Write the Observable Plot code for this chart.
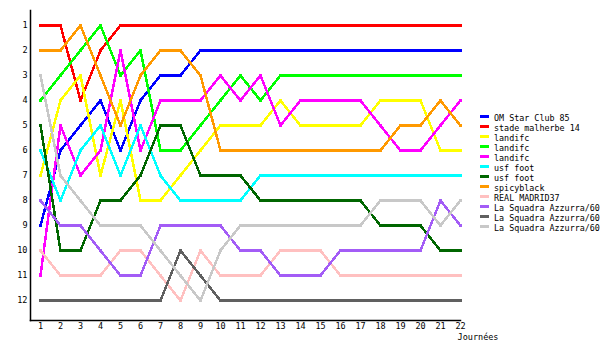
<!DOCTYPE html>
<html>
<head>
<meta charset="utf-8">
<script src="https://cdn.jsdelivr.net/npm/d3@7"></script>
<script src="https://cdn.jsdelivr.net/npm/@observablehq/plot@0.6"></script>
<style>
  html, body { margin: 0; padding: 0; background: #fff; }
  #wrap { position: relative; width: 600px; height: 350px; overflow: hidden; }
  #legend { position: absolute; left: 480px; top: 113px; font-family: "DejaVu Sans Mono", monospace; font-size: 8.4px; line-height: 10px; white-space: nowrap; }
  #legend .row { height: 10px; display: flex; align-items: center; }
  #legend .sw { width: 9px; height: 3px; margin-right: 5px; margin-top: -3px; }
</style>
</head>
<body>
<div id="wrap"><div id="chart"></div><div id="legend"></div></div>
<script>
const journees = d3.range(1, 23);
const teams = ["OM Star Club 85", "stade malherbe 14", "landifc", "landifc", "landifc", "usf foot", "usf foot", "spicyblack", "REAL MADRID37", "La Squadra Azzurra/60", "La Squadra Azzurra/60", "La Squadra Azzurra/60"];
const colors = ["#0000ff", "#ff0000", "#ffff00", "#00ff00", "#ff00ff", "#00ffff", "#006600", "#ff9900", "#ffc0c0", "#a35cf6", "#606060", "#c8c8c8"];
const omStar     = [9,6,5,4,6,4,3,3,2,2,2,2,2,2,2,2,2,2,2,2,2,2];
const stadeMal   = [1,1,4,2,1,1,1,1,1,1,1,1,1,1,1,1,1,1,1,1,1,1];
const landifcY   = [7,4,3,7,4,8,8,7,6,5,5,5,4,5,5,5,5,4,4,4,6,6];
const landifcG   = [4,3,2,1,3,2,6,6,5,4,3,4,3,3,3,3,3,3,3,3,3,3];
const landifcM   = [11,5,7,6,2,6,4,4,4,3,4,3,5,4,4,4,4,5,6,6,5,4];
const usfC       = [6,8,6,5,7,5,7,8,8,8,8,7,7,7,7,7,7,7,7,7,7,7];
const usfG       = [5,10,10,8,8,7,5,5,7,7,7,8,8,8,8,8,8,9,9,9,10,10];
const spicy      = [2,2,1,3,5,3,2,2,3,6,6,6,6,6,6,6,6,6,5,5,4,5];
const realMad    = [10,11,11,11,10,10,11,12,10,11,11,11,10,10,10,11,11,11,11,11,11,11];
const squadraA   = [8,9,9,10,11,11,9,9,9,9,10,10,11,11,11,10,10,10,10,10,8,9];
const squadraB   = [12,12,12,12,12,12,12,10,11,12,12,12,12,12,12,12,12,12,12,12,12,12];
const squadraC   = [3,7,8,9,9,9,10,11,12,10,9,9,9,9,9,9,9,8,8,8,9,8];
const series = [omStar, stadeMal, landifcY, landifcG, landifcM, usfC, usfG, spicy, realMad, squadraA, squadraB, squadraC];
const ranks = d3.range(1, 13);

const rows = [];
series.forEach((vals, i) => vals.forEach((r, j) => rows.push({id: i, team: teams[i], j: journees[j], rank: r})));

const marks = [];
series.forEach((vals, i) => {
  const d = rows.filter(r => r.id === i);
  marks.push(Plot.line(d, {x: "j", y: "rank", stroke: colors[i], strokeWidth: 2.5, shapeRendering: "crispEdges"}));
  marks.push(Plot.dot(d, {x: "j", y: "rank", symbol: "square", r: 2.2, fill: colors[i], stroke: "none", shapeRendering: "crispEdges"}));
});

const chart = Plot.plot({
  width: 600,
  height: 350,
  marginLeft: 30,
  marginRight: 140,
  marginTop: 10,
  marginBottom: 30,
  style: {fontFamily: "DejaVu Sans Mono, monospace", fontSize: "8.5px", background: "#fff", color: "#000"},
  x: {domain: [0.5, 22], axis: null, label: null},
  y: {domain: [0.4, 12.8], reverse: true, axis: null, label: null},
  marks: [
    Plot.frame({anchor: "left", stroke: "#000", strokeWidth: 1.5}),
    Plot.frame({anchor: "bottom", stroke: "#000", strokeWidth: 1.5}),
    Plot.axisX(journees, {anchor: "bottom", label: null, tickSize: 0, tickPadding: 2, tickFormat: d => String(d), fill: "#000"}),
    Plot.axisY(ranks, {anchor: "left", label: null, tickSize: 0, tickPadding: 3, tickFormat: d => String(d), fill: "#000"}),
    ...marks,
    Plot.text(["Journées"], {frameAnchor: "bottom-right", dx: 38, dy: 19, textAnchor: "end", fill: "#000"})
  ]
});
document.getElementById("chart").appendChild(chart);

const legend = document.getElementById("legend");
teams.forEach((t, i) => {
  const row = document.createElement("div");
  row.className = "row";
  const sw = document.createElement("span");
  sw.className = "sw";
  sw.style.background = colors[i];
  const tx = document.createElement("span");
  tx.textContent = t;
  row.appendChild(sw);
  row.appendChild(tx);
  legend.appendChild(row);
});
</script>
</body>
</html>
